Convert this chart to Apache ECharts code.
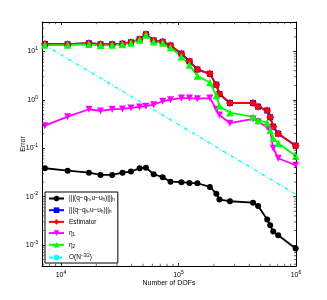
<!DOCTYPE html>
<html><head><meta charset="utf-8">
<script src="https://cdn.jsdelivr.net/npm/echarts@6/dist/echarts.min.js"></script>
<style>html,body{margin:0;padding:0;background:#fff}#c{width:327px;height:300px}</style>
</head><body><div id="c"></div>
<script>
const dofs = [7300,11400,17300,21700,27300,33400,39400,46700,52900,61500,73400,85500,106000,124000,145000,185000,210000,223000,274000,431000,476000,569000,603000,640000,706000,994000];
const tripleNorm = [0.0386,0.0344,0.0313,0.0281,0.0281,0.0313,0.0329,0.0386,0.0397,0.0290,0.0252,0.0204,0.0199,0.0192,0.0189,0.0159,0.0115,0.00867,0.00803,0.00751,0.00642,0.00335,0.00257,0.00189,0.00159,0.000843];
const hNorm = [14.3,14.1,14.8,14.1,14.1,14.5,15.5,17.9,22.7,16.9,15.9,13.3,9.01,6.28,4.25,3.46,2.06,1.32,0.863,0.863,0.724,0.604,0.437,0.279,0.200,0.113];
const estimator = [14.3,14.1,14.8,14.1,14.1,14.5,15.5,17.9,22.7,16.9,15.9,13.3,9.01,6.28,4.25,3.46,2.06,1.32,0.863,0.863,0.724,0.604,0.437,0.279,0.200,0.113];
const eta1 = [0.293,0.450,0.640,0.590,0.640,0.649,0.680,0.713,0.738,0.796,0.936,1.01,1.09,1.09,1.06,1.09,0.640,0.488,0.329,0.403,0.355,0.272,0.231,0.100,0.0621,0.0445];
const eta2 = [13.6,13.6,14.1,13.4,13.6,14.0,15.0,17.3,21.9,15.9,15.0,12.1,7.81,5.26,3.12,2.29,1.23,0.748,0.544,0.443,0.375,0.338,0.233,0.161,0.127,0.0693];
const refDofs = [7300, 994000];
const refRate = [13.6, 0.0112];
const legendNames = ['|||(q−q{sub|h},u−u{sub|h})|||{sub|h}','||(q−q{sub|h},u−u{sub|h})||{sub|h}','Estimator','η{sub|1}','η{sub|2}','O(N{sup|−3/2})'];

const X_MIN = 6900, X_MAX = 1e6, Y_MIN = 3.68e-4, Y_MAX = 40.7;
const xMinor = [], yMinor = [];
for (let d = 1e3; d <= 1e5; d *= 10) for (let k = 2; k <= 9; k++) { const v = k*d; if (v > X_MIN && v < X_MAX) xMinor.push([v, Y_MIN]); }
for (let d = 1e-4; d <= 10; d *= 10) for (let k = 2; k <= 9; k++) { const v = k*d; if (v > Y_MIN && v < Y_MAX) yMinor.push([X_MIN, v]); }

const FONT = 'Liberation Sans';
function powLabel(v) {
  const e = Math.log10(v);
  if (Math.abs(e - Math.round(e)) > 1e-6) return '';
  return '10{sup|' + Math.round(e) + '}';
}
const labelRich = { sup: { fontSize: 5, fontFamily: FONT, color: '#000', padding: [0,0,5,0] } };
const lineAx = { lineStyle: { color: '#000', width: 1 } };
const tickAx = { inside: true, length: 3, lineStyle: { color: '#000', width: 0.8 } };

function mk(name, data, color, symbol, size, rotate) {
  return {
    name: name, type: 'line', data: dofs.map((x, i) => [x, data[i]]),
    symbol: symbol, symbolSize: size, symbolRotate: rotate || 0,
    lineStyle: { color: color, width: 1.8 }, itemStyle: { color: color },
    showAllSymbol: true, animation: false
  };
}
function minorRender(isX) {
  return function (params, api) {
    const a = api.value(0), b = api.value(1);
    const L = 2.2;
    let p1, p2, shapes;
    if (isX) {
      p1 = api.coord([a, Y_MIN]); p2 = api.coord([a, Y_MAX]);
      shapes = [[p1[0], p1[1], p1[0], p1[1]-L], [p2[0], p2[1], p2[0], p2[1]+L]];
    } else {
      p1 = api.coord([X_MIN, b]); p2 = api.coord([X_MAX, b]);
      shapes = [[p1[0], p1[1], p1[0]+L, p1[1]], [p2[0], p2[1], p2[0]-L, p2[1]]];
    }
    return { type: 'group', children: shapes.map(s => ({ type: 'line', shape: { x1: s[0], y1: s[1], x2: s[2], y2: s[3] }, style: { stroke: '#000', lineWidth: 0.6 } })) };
  };
}

const chart = echarts.init(document.getElementById('c'));
chart.setOption({
  animation: false,
  backgroundColor: '#fff',
  textStyle: { fontFamily: FONT },
  grid: { left: 42, right: 31, top: 22, bottom: 34 },
  xAxis: [
    { type: 'log', min: X_MIN, max: X_MAX, position: 'bottom', splitNumber: 3,
      name: 'Number of DOFs', nameLocation: 'middle', nameGap: 14, nameMoveOverlap: false,
      nameTextStyle: { fontSize: 7, color: '#000', fontFamily: FONT },
      axisLine: lineAx, axisTick: tickAx, splitLine: { show: false }, minorTick: { show: false },
      axisLabel: { formatter: powLabel, fontSize: 7, color: '#000', margin: 4, fontFamily: FONT, rich: labelRich } },
    { type: 'log', min: X_MIN, max: X_MAX, position: 'top', splitNumber: 3,
      axisLine: lineAx, axisTick: tickAx, splitLine: { show: false }, axisLabel: { show: false } }
  ],
  yAxis: [
    { type: 'log', min: Y_MIN, max: Y_MAX, position: 'left',
      name: 'Error', nameLocation: 'middle', nameGap: 15, nameMoveOverlap: false,
      nameTextStyle: { fontSize: 7, color: '#000', fontFamily: FONT },
      axisLine: lineAx, axisTick: tickAx, splitLine: { show: false },
      axisLabel: { formatter: powLabel, fontSize: 7, color: '#000', margin: 4, fontFamily: FONT, rich: labelRich } },
    { type: 'log', min: Y_MIN, max: Y_MAX, position: 'right',
      axisLine: lineAx, axisTick: tickAx, splitLine: { show: false }, axisLabel: { show: false } }
  ],
  legend: {
    orient: 'vertical', left: 45, top: 192, data: legendNames,
    backgroundColor: '#fff', borderColor: '#000', borderWidth: 1, borderRadius: 0,
    padding: [3, 3, 2, 3], itemWidth: 15, itemHeight: 7, itemGap: 4.2,
    textStyle: { fontSize: 6.5, color: '#000', fontFamily: FONT,
      rich: { sub: { fontSize: 4.5, color: '#000', padding: [3,0,0,0] }, sup: { fontSize: 4.5, color: '#000', padding: [0,0,4,0] } } }
  },
  series: [
    mk(legendNames[0], tripleNorm, '#000000', 'circle', 6),
    mk(legendNames[1], hNorm, '#0000ff', 'rect', 6),
    mk(legendNames[2], estimator, '#ff0000', 'diamond', 8),
    mk(legendNames[3], eta1, '#ff00ff', 'triangle', 7, 180),
    mk(legendNames[4], eta2, '#00ff00', 'triangle', 7.5),
    { name: legendNames[5], type: 'line', data: refDofs.map((x, i) => [x, refRate[i]]), symbol: 'none',
      lineStyle: { color: '#00ffff', width: 1.3, type: [4, 2, 1, 2] }, itemStyle: { color: '#00ffff' } },
    { type: 'custom', coordinateSystem: 'cartesian2d', data: xMinor, renderItem: minorRender(true), silent: true, z: 5 },
    { type: 'custom', coordinateSystem: 'cartesian2d', data: yMinor, renderItem: minorRender(false), silent: true, z: 5 }
  ]
});
</script></body></html>
